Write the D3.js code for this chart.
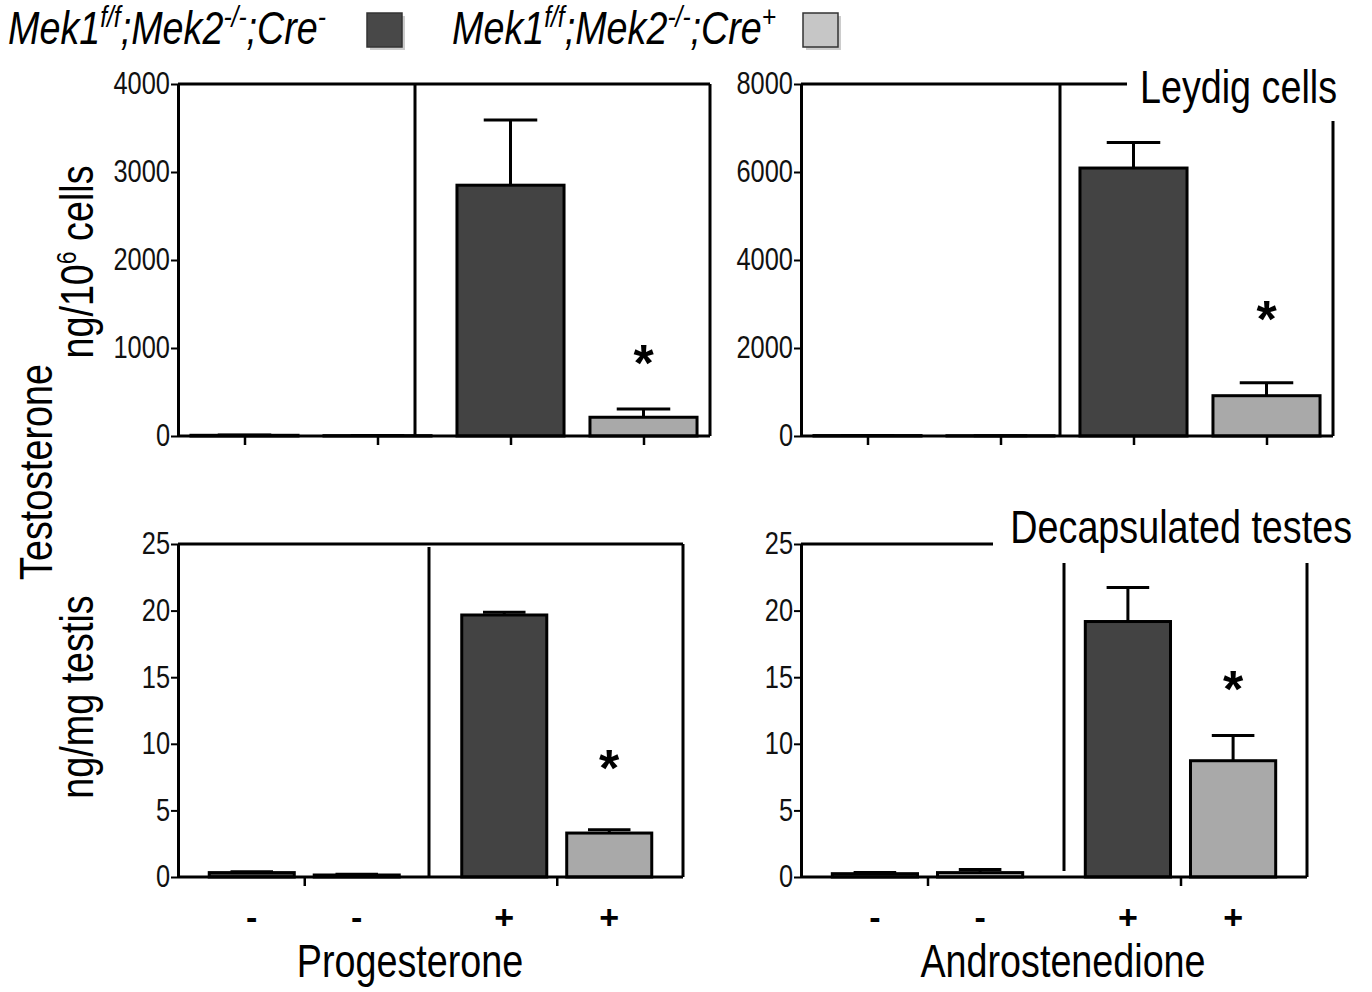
<!DOCTYPE html>
<html>
<head>
<meta charset="utf-8">
<script src="https://cdn.jsdelivr.net/npm/d3@7"></script>
<style>
  body { margin: 0; background: #fff; }
  svg { display: block; font-family: "Liberation Sans", Arial, sans-serif; }
</style>
</head>
<body>
<svg id="chart" width="1372" height="992"></svg>
<script>
// steroid added (-/+) and genotype within each steroid group
const steroid = ['-', '+']
const genotypes = ['Cre-', 'Cre+']
const barLabels = ['-', '-', '+', '+']

// Leydig cells, ng/10^6 cells
const leydigProg = [8, 4, 2850, 213]
const leydigProgErr = [10, 6, 3590, 308]
const leydigAndro = [10, 6, 6090, 916]
const leydigAndroErr = [12, 8, 6670, 1211]
// decapsulated testes, ng/mg testis
const testisProg = [0.33, 0.15, 19.67, 3.3]
const testisProgErr = [0.4, 0.2, 19.87, 3.55]
const testisAndro = [0.25, 0.33, 19.18, 8.73]
const testisAndroErr = [0.33, 0.57, 21.73, 10.63]

const leydigProgTicks = [0, 1000, 2000, 3000, 4000]
const leydigAndroTicks = [0, 2000, 4000, 6000, 8000]
const testisTicks = [0, 5, 10, 15, 20, 25]

// where the significance star sits, in data units, for the Cre+ bar
const stars = [900, 2800, 8.65, 14.6]

const colors = { 'Cre-': '#434343', 'Cre+': '#a9a9a9' }

// no narrow font installed, so squeeze Liberation Sans to the Arial Narrow width
const NARROW = 0.82

const svg = d3.select('#chart')

const panels = [
  { values: leydigProg, errors: leydigProgErr, ticks: leydigProgTicks, star: stars[0],
    l: 178, r: 710, t: 84, b: 436, pin: 0.195, pout: 0.0975, tickEach: true,
    div: 237, frame: 'box' },
  { values: leydigAndro, errors: leydigAndroErr, ticks: leydigAndroTicks, star: stars[1],
    l: 801, r: 1333, t: 84, b: 436, pin: 0.195, pout: 0.0975, tickEach: true,
    div: 259, frame: 'open', topEnd: 1127, sideTop: 121 },
  { values: testisProg, errors: testisProgErr, ticks: testisTicks, star: stars[2],
    l: 178, r: 683, t: 544, b: 877, pin: 0.19, pout: 0.2976, tickEach: false,
    div: 251, divTop: 547, frame: 'box', labels: true },
  { values: testisAndro, errors: testisAndroErr, ticks: testisTicks, star: stars[3],
    l: 801, r: 1307, t: 544, b: 877, pin: 0.19, pout: 0.2976, tickEach: false,
    div: 263, divTop: 563, divBottom: 871, frame: 'open', topEnd: 993, sideTop: 563, labels: true }
]

const narrowText = function (x, y, size) {
  return svg.append('text')
    .attr('transform', `translate(${x},${y}) scale(${NARROW},1)`)
    .attr('font-size', size)
}

const drawPanel = function (p) {
  const g = svg.append('g')
  const y = d3.scaleLinear().domain([0, d3.max(p.ticks)]).range([p.b, p.t])
  const outer = d3.scaleBand().domain(steroid).range([p.l, p.r])
  const inner = d3.scaleBand().domain(genotypes).range([0, outer.bandwidth()])
    .paddingInner(p.pin).paddingOuter(p.pout)

  const bars = p.values.map((v, i) => ({
    v: v, e: p.errors[i], s: steroid[Math.floor(i / 2)], gt: genotypes[i % 2], label: barLabels[i]
  }))
  const cx = d => outer(d.s) + inner(d.gt) + inner.bandwidth() / 2

  // error bars first so the bar outline covers their foot
  const capW = inner.bandwidth() * 0.5
  g.selectAll('.err').data(bars).join('path')
    .attr('d', d => `M${cx(d)},${y(d.v)}V${y(d.e)}M${cx(d) - capW / 2},${y(d.e)}H${cx(d) + capW / 2}`)
    .attr('stroke', '#000').attr('stroke-width', 3).attr('fill', 'none')

  g.selectAll('.bar').data(bars).join('rect')
    .attr('x', d => outer(d.s) + inner(d.gt))
    .attr('y', d => y(d.v))
    .attr('width', inner.bandwidth())
    .attr('height', d => y(0) - y(d.v))
    .attr('fill', d => colors[d.gt])
    .attr('stroke', '#000').attr('stroke-width', 3)

  // frame
  const line = (x1, y1, x2, y2) => g.append('line')
    .attr('x1', x1).attr('y1', y1).attr('x2', x2).attr('y2', y2)
    .attr('stroke', '#000').attr('stroke-width', 3)
  if (p.frame === 'box') {
    line(p.l, p.t, p.r, p.t)
    line(p.r, p.t, p.r, p.b)
  } else {
    line(p.l, p.t, p.topEnd, p.t)
    line(p.r, p.sideTop, p.r, p.b)
  }
  line(p.l + p.div, p.divTop || p.t, p.l + p.div, p.divBottom || p.b)

  // y axis
  const ya = g.append('g').attr('transform', `translate(${p.l},0)`)
    .call(d3.axisLeft(y).tickValues(p.ticks).tickFormat(d3.format('d'))
      .tickSize(7).tickSizeOuter(0).tickPadding(2))
  ya.select('.domain').attr('stroke-width', 3)
  ya.selectAll('.tick line').attr('stroke-width', 2)
  ya.selectAll('.tick text')
    .attr('font-size', 31).attr('font-family', null).attr('fill', '#111')
    .attr('x', -8 / NARROW)
    .attr('transform', `scale(${NARROW},1)`)

  // x axis: ticks under each bar on top row, under each group on bottom row
  let xs
  if (p.tickEach) {
    xs = d3.scaleOrdinal().domain(bars.map((d, i) => i)).range(bars.map(cx))
  } else {
    xs = d3.scaleOrdinal().domain(steroid).range(steroid.map(s => outer(s) + outer.bandwidth() / 2))
  }
  const xa = g.append('g').attr('transform', `translate(0,${p.b})`)
    .call(d3.axisBottom(xs).tickSize(9).tickSizeOuter(0).tickFormat(''))
  xa.select('.domain').attr('d', `M${p.l},0H${p.r}`).attr('stroke-width', 3)
  xa.selectAll('.tick line').attr('stroke-width', 2.5)

  if (p.labels) {
    g.selectAll('.pm').data(bars).join('text')
      .attr('x', cx).attr('y', 929)
      .attr('text-anchor', 'middle')
      .attr('font-size', 34).attr('font-weight', 'bold')
      .text(d => d.label)
  }

  const last = bars[3]
  g.append('text').attr('x', cx(last)).attr('y', y(p.star) + 24)
    .attr('text-anchor', 'middle').attr('font-size', 52).attr('font-weight', 'bold')
    .text('*')
}

panels.forEach(drawPanel)

// panel titles
narrowText(1337, 103, 46).attr('text-anchor', 'end').text('Leydig cells')
narrowText(1352, 543, 46).attr('text-anchor', 'end').text('Decapsulated testes')

// x titles
narrowText(410, 977, 46).attr('text-anchor', 'middle').text('Progesterone')
narrowText(1063, 977, 46).attr('text-anchor', 'middle').text('Androstenedione')

// y titles
const yTitle = function (x, y) {
  return svg.append('text')
    .attr('transform', `translate(${x},${y}) rotate(-90) scale(${NARROW},1)`)
    .attr('text-anchor', 'middle').attr('font-size', 46)
}
yTitle(52, 472).text('Testosterone')
const t1 = yTitle(93, 262)
t1.append('tspan').text('ng/10')
t1.append('tspan').attr('font-size', 28).attr('dy', -17).text('6')
t1.append('tspan').attr('dy', 17).text(' cells')
yTitle(93, 697).text('ng/mg testis')

// legend
const legend = [
  { gt: 'Cre-', x: 8, box: 367, sup3: '-', fill: '#484848' },
  { gt: 'Cre+', x: 452, box: 803, sup3: '+', fill: '#c6c6c6' }
]
legend.forEach(d => {
  const t = narrowText(d.x, 44, 46).attr('font-style', 'italic')
  t.append('tspan').text('Mek1')
  t.append('tspan').attr('font-size', 30).attr('dy', -17).text('f/f')
  t.append('tspan').attr('dy', 17).text(';Mek2')
  t.append('tspan').attr('font-size', 30).attr('dy', -17).text('-/-')
  t.append('tspan').attr('dy', 17).text(';Cre')
  t.append('tspan').attr('font-size', 30).attr('dy', -17).text(d.sup3)
  svg.append('rect').attr('x', d.box + 3).attr('y', 16).attr('width', 35).attr('height', 34)
    .attr('fill', '#999').attr('opacity', 0.5)
  svg.append('rect').attr('x', d.box).attr('y', 13).attr('width', 35).attr('height', 34)
    .attr('fill', d.fill).attr('stroke', '#333').attr('stroke-width', 1.5)
})
</script>
</body>
</html>
